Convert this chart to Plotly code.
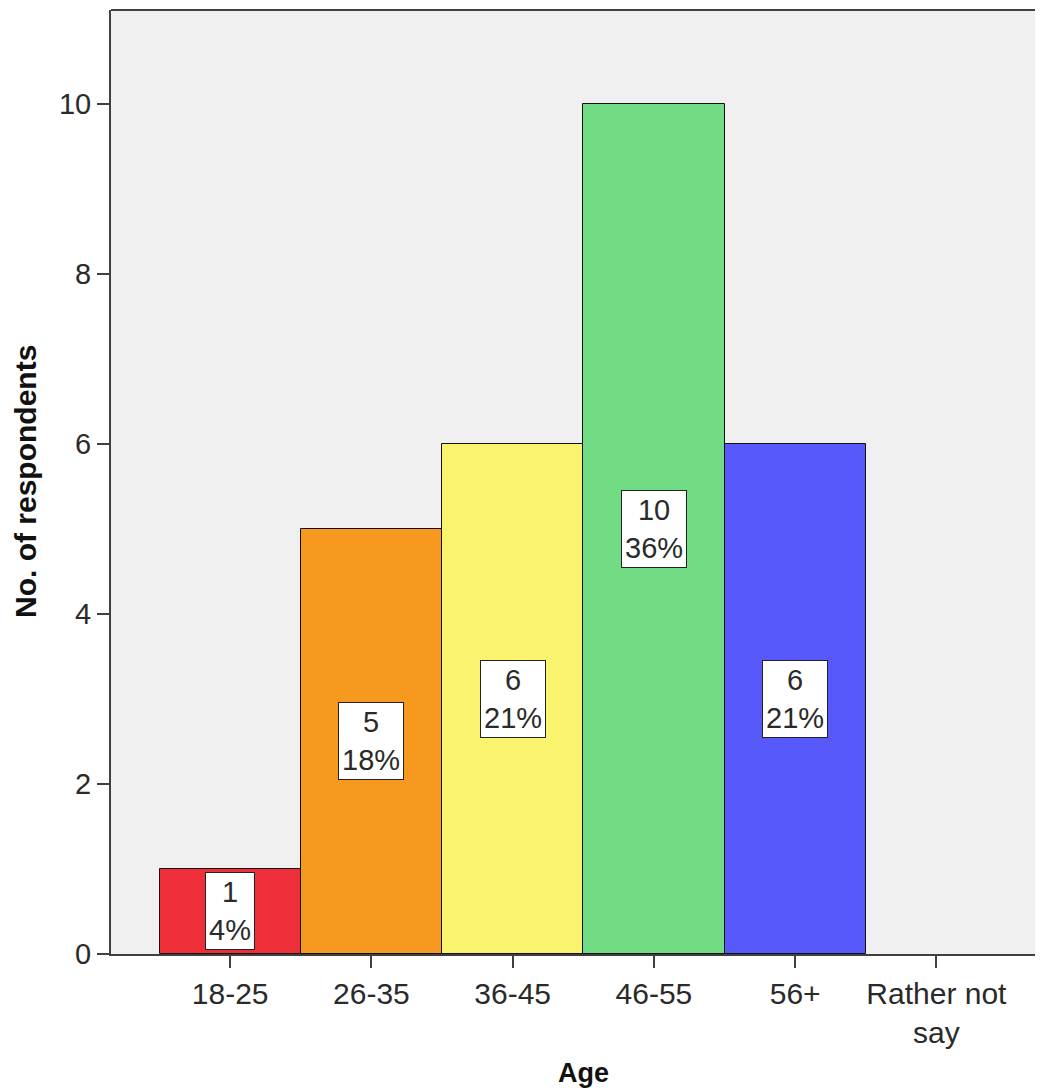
import plotly.graph_objects as go

categories = ["18-25", "26-35", "36-45", "46-55", "56+", "Rather not<br>say"]
counts = [1, 5, 6, 10, 6, 0]
percents = ["4%", "18%", "21%", "36%", "21%", ""]
colors = ["#EE2F3A", "#F7981F", "#F9F36E", "#72DC84", "#5859FA", "#CCCCCC"]

# page body has an 8px margin, so compensate so the screenshot lines up
OFF = 8
W, H = 1043 - OFF, 1092 - OFF
ML, MR, MT, MB = 111 - OFF, 0, 10 - OFF, 138
FONT = "Liberation Sans, Arial, sans-serif"
TXT = "#2a2a2a"
AX = "#404040"

xpos = list(range(len(categories)))
PW = W - ML - MR
PH = H - MT - MB

fig = go.Figure()
fig.add_trace(go.Bar(
    x=xpos, y=counts,
    marker=dict(color=colors,
                line=dict(color="#111111", width=[1 if c > 0 else 0 for c in counts])),
    width=1.0, hoverinfo="skip",
))

for xi, c, p in zip(xpos, counts, percents):
    if c > 0:
        fig.add_annotation(
            x=xi, y=c / 2, xref="x", yref="y",
            text=f"{c}<br>{p}", showarrow=False,
            font=dict(family=FONT, size=29, color=TXT),
            bgcolor="white", bordercolor="#222222", borderwidth=1, borderpad=3,
            xanchor="center", yanchor="middle",
        )

# axis titles (positions given in screen pixels)
fig.add_annotation(
    x=(583 - OFF - ML) / PW, y=-(1073 - OFF - (H - MB)) / PH,
    xref="paper", yref="paper", text="<b>Age</b>", showarrow=False,
    font=dict(family=FONT, size=27, color="#111111"),
    xanchor="center", yanchor="middle",
)
fig.add_annotation(
    x=-(ML - (25 - OFF)) / PW, y=(H - MB - (482 - OFF)) / PH,
    xref="paper", yref="paper", text="<b>No. of respondents</b>", showarrow=False,
    textangle=-90, font=dict(family=FONT, size=30, color="#111111"),
    xanchor="center", yanchor="middle",
)

# top border of plot frame
fig.add_shape(type="line", xref="paper", yref="paper", x0=0, x1=1, y0=1, y1=1,
              line=dict(color=AX, width=2))

step = 141.25
xmin = -0.5 - (159.5 - 111) / step
xmax = xmin + PW / step

fig.update_layout(
    width=W, height=H,
    margin=dict(l=ML, r=MR, t=MT, b=MB, pad=0),
    paper_bgcolor="white", plot_bgcolor="#F0F0F0",
    showlegend=False, bargap=0,
    font=dict(family=FONT, color=TXT),
    xaxis=dict(
        range=[xmin, xmax], tickmode="array", tickvals=xpos, ticktext=categories,
        showgrid=False, zeroline=False, showline=True, linecolor=AX, linewidth=2,
        ticks="outside", ticklen=12, tickwidth=2, tickcolor=AX,
        tickfont=dict(family=FONT, size=30, color=TXT), fixedrange=True,
    ),
    yaxis=dict(
        range=[0, 11.1], tickvals=[0, 2, 4, 6, 8, 10],
        showgrid=False, zeroline=False, showline=True, linecolor=AX, linewidth=2,
        ticks="outside", ticklen=12, tickwidth=2, tickcolor=AX,
        tickfont=dict(family=FONT, size=29, color=TXT), fixedrange=True,
    ),
)

fig.write_html("out.html", config={"displayModeBar": False})
